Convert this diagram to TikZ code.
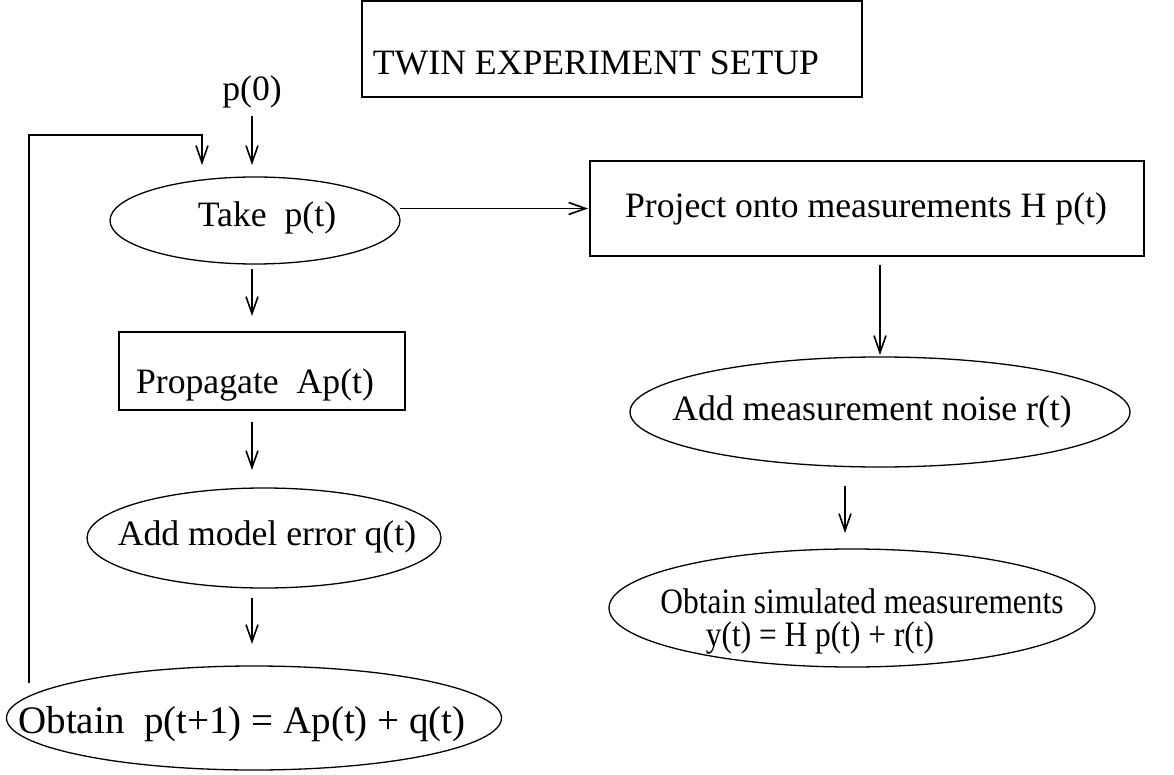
\documentclass[tikz,border=0pt]{standalone}
\usepackage{fontspec}
\usepackage{graphicx}
\setmainfont{Liberation Serif}
\usetikzlibrary{shapes.geometric,arrows.meta}
\newcommand{\tx}[3]{\smash{\makebox[0pt]{\hspace*{#1}\hspace*{#1}\raisebox{-#2}{#3}}}}
\begin{document}
\begin{tikzpicture}[x=1pt,y=-1pt,
  every node/.style={font=\fontsize{35.7}{30}\selectfont, inner sep=0pt, outer sep=0pt},
  boxnode/.style={draw, line width=1.3pt, rectangle},
  ellnode/.style={draw, line width=1.3pt, ellipse},
  arr/.style={line width=1.8pt, -{Straight Barb[length=17pt,width=12pt,line width=1.6pt]}}
]
\useasboundingbox (0,0) rectangle (1174,775);

\node[boxnode, minimum width=500, minimum height=96] (title) at (612,49) {\tx{-16pt}{26pt}{TWIN EXPERIMENT SETUP}};
\node (p0) at (252,91.6) {p(0)};

\node[ellnode, minimum width=290, minimum height=87] (take) at (255,220.5) {\tx{12pt}{6.5pt}{Take~~p(t)}};
\node[boxnode, minimum width=554, minimum height=95] (project) at (867,208.5) {\tx{-1pt}{9.5pt}{Project onto measurements H p(t)}};
\node[boxnode, minimum width=286, minimum height=78] (prop) at (262,371) {\tx{-7pt}{22pt}{Propagate~~Ap(t)}};
\node[ellnode, minimum width=354, minimum height=100] (model) at (264,538) {\tx{3pt}{7pt}{Add model error q(t)}};
\node[ellnode, minimum width=495, minimum height=104] (obtain) at (254,718) {\tx{-12pt}{15pt}{\fontsize{39}{30}\selectfont Obtain~~p(t+1) = Ap(t) + q(t)}};
\node[ellnode, minimum width=500, minimum height=110] (noise) at (880,412) {\tx{-8pt}{8pt}{Add measurement noise r(t)}};
\node[ellnode, minimum width=486, minimum height=118] (sim) at (852,608)
  {\tx{10pt}{5pt}{\scalebox{0.88}[1]{Obtain simulated measurements}}\tx{-32pt}{38pt}{\scalebox{0.88}[1]{y(t) = H p(t) + r(t)}}};

\coordinate (lc) at (252,0);
\coordinate (rc) at (845,0);
\coordinate (fb) at (29,683);
\coordinate (fbc) at (202,135);

\draw[arr, shorten <=8pt, shorten >=12pt] (p0.south) -- (p0.south |- take.north);
\draw[arr, shorten >=12pt] (fb) |- (fbc) -- (fbc |- take.north);
\draw[arr, shorten <=5pt, shorten >=16pt] (take.south -| lc) -- (prop.north -| lc);
\draw[arr, shorten <=12pt, shorten >=18pt] (prop.south -| lc) -- (model.north -| lc);
\draw[arr, shorten <=10pt, shorten >=22pt] (model.south -| lc) -- (obtain.north -| lc);
\draw[arr, shorten >=2pt] (take.east |- project.west) -- (project.west);
\draw[arr, shorten <=9pt, shorten >=2pt] (project.south -| noise.north) -- (noise.north);
\draw[arr, shorten <=19pt, shorten >=16pt] (noise.south -| rc) -- (sim.north -| rc);
\end{tikzpicture}
\end{document}
